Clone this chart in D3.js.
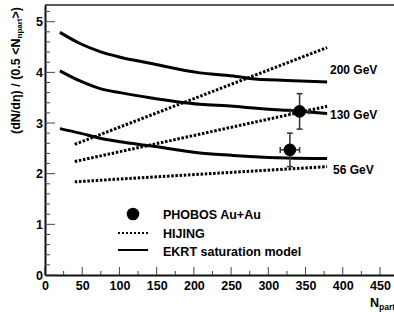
<!DOCTYPE html>
<html>
<head>
<meta charset="utf-8">
<script src="https://cdn.jsdelivr.net/npm/d3@7"></script>
<style>
  body { margin: 0; background: #fff; }
  svg text { font-family: "Liberation Sans", Arial, sans-serif; font-weight: bold; }
</style>
</head>
<body>
<div id="chart-area"></div>
<script>
// EKRT saturation model curves (Npart grid shared)
var npartEkrt = [20, 47, 74, 101, 141, 208, 253, 275, 325, 379];
var ekrt200 = [4.79, 4.57, 4.41, 4.30, 4.18, 3.99, 3.93, 3.88, 3.84, 3.81];
var ekrt130 = [4.03, 3.83, 3.68, 3.60, 3.50, 3.37, 3.33, 3.30, 3.25, 3.19];
var ekrt56  = [2.89, 2.80, 2.70, 2.63, 2.55, 2.41, 2.36, 2.34, 2.31, 2.30];

// HIJING straight lines
var npartHijing = [40, 379];
var hijing200 = [2.58, 4.49];
var hijing130 = [2.24, 3.33];
var hijing56  = [1.84, 2.14];

// PHOBOS Au+Au data
var phobosNpart = [342, 329];
var phobosValue = [3.23, 2.47];
var phobosYErr = [0.35, 0.33];
var phobosXErr = [13, 13];

var energyLabels = ['200 GeV', '130 GeV', '56 GeV'];
var xTicks = [0, 50, 100, 150, 200, 250, 300, 350, 400, 450];
var yTicks = [0, 1, 2, 3, 4, 5];

var W = 394, H = 312;
var svg = d3.select('#chart-area').append('svg')
    .attr('width', W).attr('height', H);

var x = d3.scaleLinear().domain([0, 500]).range([45, 417.2]);
var y = d3.scaleLinear().domain([0, 5.33]).range([275, 5]);

// frame
svg.append('line').attr('x1', 45).attr('x2', W).attr('y1', 5).attr('y2', 5)
    .attr('stroke', '#222').attr('stroke-width', 1.5);

// x axis
var xAxis = d3.axisBottom(x).tickValues(xTicks).tickSize(0).tickPadding(6)
    .tickFormat(d3.format('d'));
var gx = svg.append('g').attr('transform', 'translate(0,275)').call(xAxis);
gx.select('.domain').attr('stroke', '#111').attr('stroke-width', 2);
gx.selectAll('text').attr('font-size', 12.5).attr('fill', '#000')
    .attr('font-weight', 'bold');
var xMinor = d3.range(0, 501, 25);
svg.selectAll('.xtick').data(xMinor).enter().append('line')
    .attr('x1', d => x(d)).attr('x2', d => x(d))
    .attr('y1', 275).attr('y2', d => d % 50 === 0 ? 267 : 271)
    .attr('stroke', '#444').attr('stroke-width', 1);

// y axis
var yAxis = d3.axisLeft(y).tickValues(yTicks).tickSize(0).tickPadding(2)
    .tickFormat(d3.format('d'));
var gy = svg.append('g').attr('transform', 'translate(45,0)').call(yAxis);
gy.select('.domain').attr('stroke', '#111').attr('stroke-width', 2);
gy.selectAll('text').attr('font-size', 12.5).attr('fill', '#000')
    .attr('font-weight', 'bold');
var yMinor = d3.range(0, 27).map(i => i * 0.2);
svg.selectAll('.ytick').data(yMinor).enter().append('line')
    .attr('x1', 45).attr('x2', (d, i) => i % 5 === 0 ? 55 : 50)
    .attr('y1', d => y(d)).attr('y2', d => y(d))
    .attr('stroke', '#444').attr('stroke-width', 1);

// axis titles
var yt = svg.append('text')
    .attr('transform', 'translate(20,7) rotate(-90)')
    .attr('text-anchor', 'end').attr('font-size', 12.5);
yt.append('tspan').text('(dN/dη) / (0.5 <N');
yt.append('tspan').attr('font-size', 8).attr('dy', 2).text('npart');
yt.append('tspan').attr('dy', -2).text('>)');

var xt = svg.append('text').attr('x', 370).attr('y', 307).attr('font-size', 12.5);
xt.append('tspan').text('N');
xt.append('tspan').attr('font-size', 8.5).attr('dy', 3).text('part');

// curves
var line = d3.line().curve(d3.curveMonotoneX);
[ekrt200, ekrt130, ekrt56].forEach(function (vals) {
    svg.append('path')
        .attr('d', line(vals.map((v, i) => [x(npartEkrt[i]), y(v)])))
        .attr('fill', 'none').attr('stroke', '#000').attr('stroke-width', 3);
});
[hijing200, hijing130, hijing56].forEach(function (vals) {
    svg.append('path')
        .attr('d', d3.line()(vals.map((v, i) => [x(npartHijing[i]), y(v)])))
        .attr('fill', 'none').attr('stroke', '#000').attr('stroke-width', 3)
        .attr('stroke-dasharray', '2.5,1.7');
});

// energy labels
var labelPos = [[330, 4.05], [330, 3.16], [333, 2.07]];
svg.selectAll('.elab').data(energyLabels).enter().append('text')
    .attr('x', (d, i) => labelPos[i][0])
    .attr('y', (d, i) => y(labelPos[i][1]))
    .attr('dy', '0.35em').attr('font-size', 12).text(d => d);

// PHOBOS points with error bars
phobosNpart.forEach(function (n, i) {
    var cx = x(n), cy = y(phobosValue[i]);
    var y1 = y(phobosValue[i] + phobosYErr[i]), y2 = y(phobosValue[i] - phobosYErr[i]);
    var x1 = x(n - phobosXErr[i]), x2 = x(n + phobosXErr[i]);
    var g = svg.append('g').attr('stroke', '#333').attr('stroke-width', 1.5);
    g.append('line').attr('x1', cx).attr('x2', cx).attr('y1', y1).attr('y2', y2);
    g.append('line').attr('x1', cx - 3).attr('x2', cx + 3).attr('y1', y1).attr('y2', y1);
    g.append('line').attr('x1', cx - 3).attr('x2', cx + 3).attr('y1', y2).attr('y2', y2);
    g.append('line').attr('x1', x1).attr('x2', x2).attr('y1', cy).attr('y2', cy);
    g.append('line').attr('x1', x1).attr('x2', x1).attr('y1', cy - 3).attr('y2', cy + 3);
    g.append('line').attr('x1', x2).attr('x2', x2).attr('y1', cy - 3).attr('y2', cy + 3);
    svg.append('circle').attr('cx', cx).attr('cy', cy).attr('r', 6.3).attr('fill', '#000');
});

// legend
svg.append('circle').attr('cx', 133).attr('cy', 214).attr('r', 6.3).attr('fill', '#000');
svg.append('line').attr('x1', 118).attr('x2', 148).attr('y1', 233).attr('y2', 233)
    .attr('stroke', '#000').attr('stroke-width', 2).attr('stroke-dasharray', '2,2');
svg.append('line').attr('x1', 118).attr('x2', 148).attr('y1', 250).attr('y2', 250)
    .attr('stroke', '#000').attr('stroke-width', 2);
var legendText = ['PHOBOS Au+Au', 'HIJING', 'EKRT saturation model'];
var legendY = [214, 233, 251];
svg.selectAll('.ltext').data(legendText).enter().append('text')
    .attr('x', 163).attr('y', (d, i) => legendY[i]).attr('dy', '0.36em')
    .attr('font-size', 12.5).text(d => d);
</script>
</body>
</html>
